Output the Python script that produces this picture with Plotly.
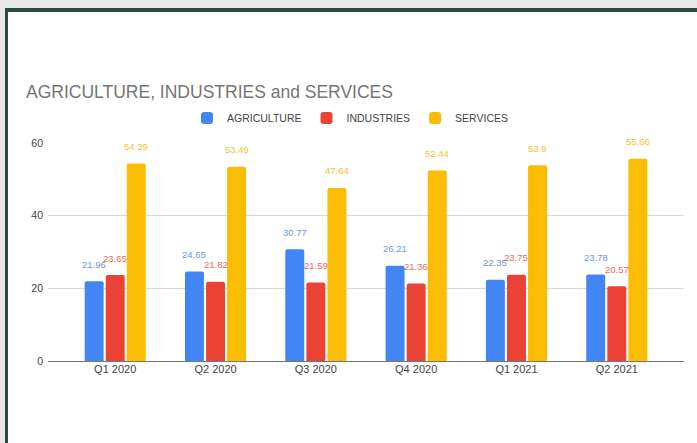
import plotly.graph_objects as go

# ---- data ----
quarters = ["Q1 2020", "Q2 2020", "Q3 2020", "Q4 2020", "Q1 2021", "Q2 2021"]
agriculture = [21.96, 24.65, 30.77, 26.21, 22.35, 23.78]
industries = [23.65, 21.82, 21.59, 21.36, 23.75, 20.57]
services = [54.39, 53.49, 47.64, 52.44, 53.9, 55.66]
y_ticks = [0, 20, 40, 60]

series_names = ["AGRICULTURE", "INDUSTRIES", "SERVICES"]
bar_colors = ["#4285f4", "#ea4335", "#fbbc04"]
label_colors = ["#6f95de", "#ea6a5e", "#f5c232"]

# ---- geometry (pixels) ----
W, H = 697, 443
L, R, T, B = 48, 13, 143, 82
plot_w = W - L - R
plot_h = H - T - B
x_range = [-0.67, 5.67]
bargap = 0.37
cat_px = plot_w / (x_range[1] - x_range[0])
slot_px = cat_px * (1 - bargap) / 3


def px_x(px):
    return (px - L) / plot_w


def px_y(py):
    return (H - B - py) / plot_h


font_family = "Liberation Sans, Arial, sans-serif"

fig = go.Figure()
for name, vals, col in zip(series_names, [agriculture, industries, services], bar_colors):
    fig.add_trace(go.Bar(
        x=quarters, y=vals, name=name,
        marker=dict(color=col, line=dict(width=0), cornerradius=2),
        hoverinfo="x+y+name",
    ))

annotations = []
for i, (vals, col) in enumerate(zip([agriculture, industries, services], label_colors)):
    for q, v in zip(quarters, vals):
        annotations.append(dict(
            x=q, y=v, xref="x", yref="y", text=f"{v:g}",
            showarrow=False, xshift=(i - 1) * slot_px, yshift=17,
            yanchor="middle", xanchor="center",
            font=dict(family=font_family, size=9.5, color=col),
        ))

gray = "#e7e8e7"
green = "#2e4a3a"
shapes = [
    dict(type="rect", xref="paper", yref="paper", layer="above",
         x0=px_x(0), x1=px_x(W), y0=px_y(0), y1=px_y(8),
         fillcolor=gray, line=dict(width=0)),
    dict(type="rect", xref="paper", yref="paper", layer="above",
         x0=px_x(0), x1=px_x(5), y0=px_y(0), y1=px_y(H),
         fillcolor=gray, line=dict(width=0)),
    dict(type="rect", xref="paper", yref="paper", layer="above",
         x0=px_x(5), x1=px_x(W), y0=px_y(8), y1=px_y(12),
         fillcolor=green, line=dict(width=0)),
    dict(type="rect", xref="paper", yref="paper", layer="above",
         x0=px_x(5), x1=px_x(8), y0=px_y(8), y1=px_y(H),
         fillcolor=green, line=dict(width=0)),
]

fig.update_layout(
    width=W, height=H,
    margin=dict(l=L, r=R, t=T, b=B, pad=0),
    paper_bgcolor="white", plot_bgcolor="white",
    barmode="group", bargap=bargap, bargroupgap=0.1,
    font=dict(family=font_family, color="#444444"),
    title=dict(
        text="AGRICULTURE, INDUSTRIES and SERVICES",
        x=26 / W, xanchor="left", xref="container",
        y=1 - 92 / H, yanchor="middle", yref="container",
        font=dict(family=font_family, size=17.5, color="#757575"),
    ),
    legend=dict(
        orientation="h", x=px_x(350), xanchor="center",
        y=px_y(118), yanchor="middle",
        font=dict(family=font_family, size=10.5, color="#444444"),
        itemwidth=30, traceorder="normal", bgcolor="rgba(0,0,0,0)",
    ),
    xaxis=dict(
        range=x_range, showgrid=False, zeroline=False, showline=False,
        ticks="", tickfont=dict(family=font_family, size=11, color="#444444"),
        fixedrange=True,
    ),
    yaxis=dict(
        range=[0, 60], tickvals=y_ticks, showgrid=True, gridcolor="#d8d8d8",
        gridwidth=1, zeroline=True, zerolinecolor="#777777", zerolinewidth=1,
        showline=False, ticks="", ticklabelstandoff=4,
        tickfont=dict(family=font_family, size=10.5, color="#444444"),
        fixedrange=True,
    ),
    annotations=annotations,
    shapes=shapes,
    showlegend=True,
)

fig.write_html(
    "out.html",
    config={"displayModeBar": False},
    post_script="document.body.style.margin='0';document.body.style.overflow='hidden';",
)
